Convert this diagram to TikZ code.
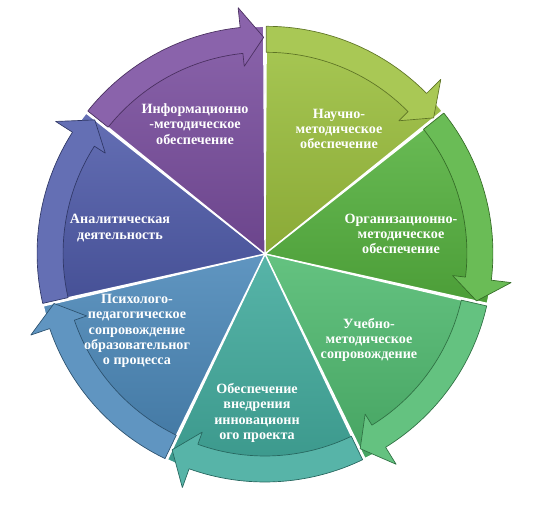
\documentclass[tikz,border=0pt]{standalone}
\usepackage{fontspec}
\setmainfont{Liberation Serif}
\usepackage{tikz}
\usetikzlibrary{%
	calc,%
	shadings%
}
\definecolor{nauchcol}{HTML}{9DC13E}
\definecolor{orgcol}{HTML}{56B33F}
\definecolor{uchcol}{HTML}{4FBA6F}
\definecolor{innovcol}{HTML}{40AA9C}
\definecolor{psycol}{HTML}{4A87B8}
\definecolor{analcol}{HTML}{4F5BAA}
\definecolor{infocol}{HTML}{7A4E9F}
\tikzstyle{sectortext}=[text=white, align=center, font=\bfseries\fontsize{10.6}{11.4}\selectfont]
\tikzstyle{sector}=[draw=white, line width=1pt]
\tikzstyle{rim}=[line width=0.5pt]

\begin{document}
\begin{tikzpicture}[line join=bevel, x=0.75pt, y=0.75pt]
	\useasboundingbox (-265,-254) rectangle (272,254);
	\coordinate (ctr) at (0,0);

	% Sectors with their rim arrows
	\foreach \k/\col in {0/nauchcol,1/orgcol,2/uchcol,3/innovcol,4/psycol,5/analcol,6/infocol}{
		\pgfmathsetmacro{\hi}{90-360/7*\k}
		\pgfmathsetmacro{\lo}{\hi-360/7}
		\pgfmathsetmacro{\mi}{\hi-180/7}
		\pgfmathsetmacro{\hd}{\lo+6}
		\begin{scope}[shift={(\mi:3)}]
			\shadedraw[sector, top color=\col!88!white, bottom color=\col!88!black] (ctr) -- (\hi:225) arc[start angle=\hi, end angle=\lo, radius=225] -- cycle;
			\filldraw[rim, fill=\col!88!white, draw=\col!60!black] (\hi:199) -- (\hi:225) arc[start angle=\hi, end angle=\hd, radius=225] -- (\hd:245) -- (\lo:214) -- (\hd:186) -- (\hd:199) arc[start angle=\hd, end angle=\hi, radius=199] -- cycle;
		\end{scope}
	}

	% Labels
	\node[sectortext] (nauch) at (74,125) {Научно-\\методическое\\обеспечение};
	\node[sectortext] (org) at (136,20) {Организационно-\\методическое\\обеспечение};
	\node[sectortext] (uch) at (104,-86) {Учебно-\\методическое\\сопровождение};
	\node[sectortext] (innov) at (-8,-159) {Обеспечение\\внедрения\\инновационн\\ого проекта};
	\node[sectortext] (psy) at (-128,-77) {Психолого-\\педагогическое\\сопровождение\\образовательног\\о процесса};
	\node[sectortext] (anal) at (-145,26) {Аналитическая\\деятельность};
	\node[sectortext] (info) at (-70,130) {Информационно\\-методическое\\обеспечение};
\end{tikzpicture}
\end{document}
